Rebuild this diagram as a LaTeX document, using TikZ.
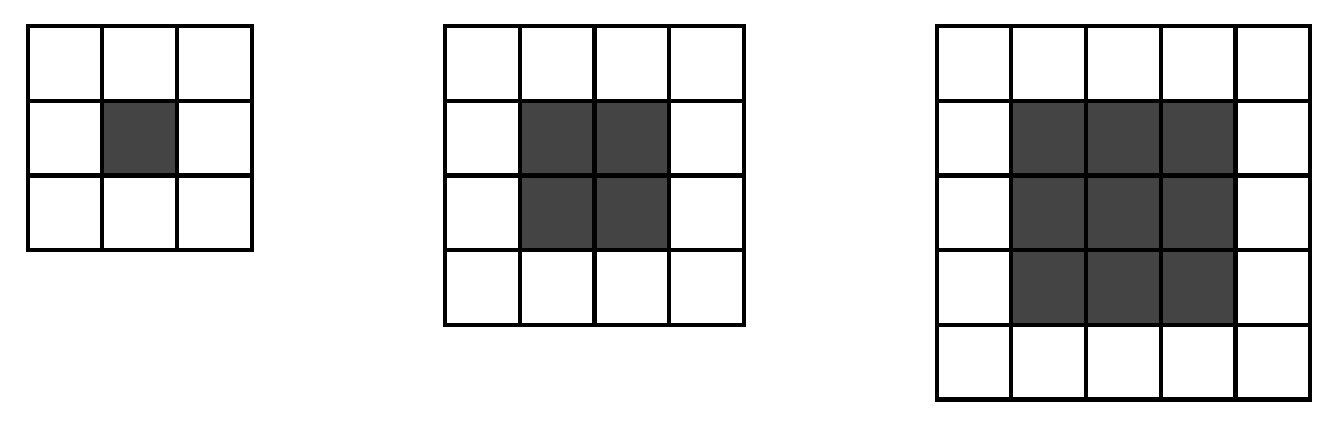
\documentclass[tikz,border=0pt]{standalone}
\usepackage{tikz}
\definecolor{cellgray}{HTML}{444444}

\begin{document}
\begin{tikzpicture}[line width=1.6pt,line cap=rect]
    \useasboundingbox (0,0) rectangle (17.94,5.70);

    %3x3
    \fill [cellgray] (1.37,3.35) rectangle (2.37,4.35);
    \draw [shift={(0.37,2.35)}] (0,0) grid (3,3);

    %4x4
    \fill [cellgray] (6.96,2.35) rectangle (8.96,4.35);
    \draw [shift={(5.96,1.35)}] (0,0) grid (4,4);

    %5x5
    \fill [cellgray] (13.54,1.35) rectangle (16.54,4.35);
    \draw [shift={(12.54,0.35)}] (0,0) grid (5,5);

\end{tikzpicture}
\end{document}
